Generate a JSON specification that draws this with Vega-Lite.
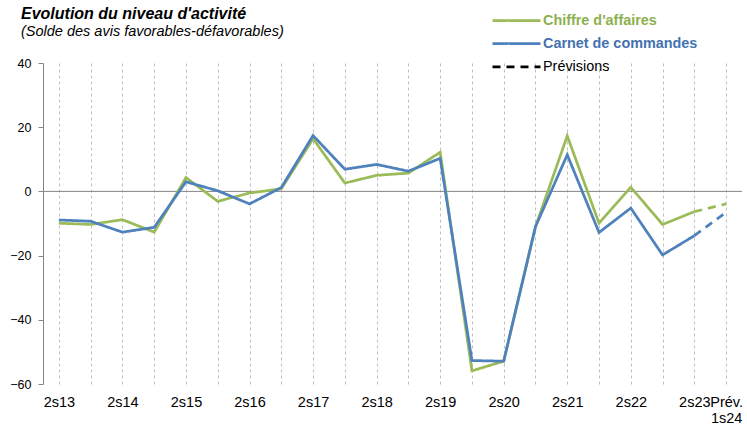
{
  "$schema": "https://vega.github.io/schema/vega-lite/v6.json",
  "width": 699,
  "height": 321,
  "autosize": {"type": "none"},
  "padding": {"left": 43, "top": 63, "right": 5, "bottom": 41},
  "background": "white",
  "config": {
    "view": {"stroke": null},
    "font": "Liberation Sans"
  },
  "title": {
    "text": "Evolution du niveau d'activité",
    "subtitle": "(Solde des avis favorables-défavorables)",
    "anchor": "start",
    "frame": "group",
    "dx": -22,
    "dy": 49,
    "offset": 24,
    "font": "Liberation Sans",
    "fontSize": 16,
    "fontStyle": "italic",
    "fontWeight": "bold",
    "color": "#000000",
    "subtitleFont": "Liberation Sans",
    "subtitleFontSize": 14.5,
    "subtitleFontStyle": "italic",
    "subtitleColor": "#000000",
    "subtitlePadding": 3
  },
  "layer": [
    {
      "data": {"values": [{"zero": 0}]},
      "mark": {"type": "rule", "color": "#868686", "strokeWidth": 1},
      "encoding": {
        "y": {"field": "zero", "type": "quantitative", "scale": {"domain": [-60, 40]}}
      }
    },
    {
      "data": {
        "values": [
          {"cat": "2s13", "serie": "Chiffre d'affaires", "leg": "Chiffre d'affaires", "v": -9.9},
          {"cat": "1s14", "serie": "Chiffre d'affaires", "leg": "Chiffre d'affaires", "v": -10.3},
          {"cat": "2s14", "serie": "Chiffre d'affaires", "leg": "Chiffre d'affaires", "v": -8.8},
          {"cat": "1s15", "serie": "Chiffre d'affaires", "leg": "Chiffre d'affaires", "v": -12.7},
          {"cat": "2s15", "serie": "Chiffre d'affaires", "leg": "Chiffre d'affaires", "v": 4.3},
          {"cat": "1s16", "serie": "Chiffre d'affaires", "leg": "Chiffre d'affaires", "v": -3.1},
          {"cat": "2s16", "serie": "Chiffre d'affaires", "leg": "Chiffre d'affaires", "v": -0.5},
          {"cat": "1s17", "serie": "Chiffre d'affaires", "leg": "Chiffre d'affaires", "v": 0.8},
          {"cat": "2s17", "serie": "Chiffre d'affaires", "leg": "Chiffre d'affaires", "v": 16.4},
          {"cat": "1s18", "serie": "Chiffre d'affaires", "leg": "Chiffre d'affaires", "v": 2.6},
          {"cat": "2s18", "serie": "Chiffre d'affaires", "leg": "Chiffre d'affaires", "v": 5.0},
          {"cat": "1s19", "serie": "Chiffre d'affaires", "leg": "Chiffre d'affaires", "v": 5.7},
          {"cat": "2s19", "serie": "Chiffre d'affaires", "leg": "Chiffre d'affaires", "v": 12.2},
          {"cat": "1s20", "serie": "Chiffre d'affaires", "leg": "Chiffre d'affaires", "v": -55.9},
          {"cat": "2s20", "serie": "Chiffre d'affaires", "leg": "Chiffre d'affaires", "v": -52.9},
          {"cat": "1s21", "serie": "Chiffre d'affaires", "leg": "Chiffre d'affaires", "v": -11.0},
          {"cat": "2s21", "serie": "Chiffre d'affaires", "leg": "Chiffre d'affaires", "v": 17.3},
          {"cat": "1s22", "serie": "Chiffre d'affaires", "leg": "Chiffre d'affaires", "v": -9.9},
          {"cat": "2s22", "serie": "Chiffre d'affaires", "leg": "Chiffre d'affaires", "v": 1.3},
          {"cat": "1s23", "serie": "Chiffre d'affaires", "leg": "Chiffre d'affaires", "v": -10.3},
          {"cat": "2s23", "serie": "Chiffre d'affaires", "leg": "Chiffre d'affaires", "v": -6.3},
          {"cat": "2s23", "serie": "Chiffre d'affaires", "leg": "Prévisions", "v": -6.3},
          {"cat": "Prév. 1s24", "serie": "Chiffre d'affaires", "leg": "Prévisions", "v": -3.9},
          {"cat": "2s13", "serie": "Carnet de commandes", "leg": "Carnet de commandes", "v": -8.9},
          {"cat": "1s14", "serie": "Carnet de commandes", "leg": "Carnet de commandes", "v": -9.3},
          {"cat": "2s14", "serie": "Carnet de commandes", "leg": "Carnet de commandes", "v": -12.7},
          {"cat": "1s15", "serie": "Carnet de commandes", "leg": "Carnet de commandes", "v": -11.2},
          {"cat": "2s15", "serie": "Carnet de commandes", "leg": "Carnet de commandes", "v": 3.0},
          {"cat": "1s16", "serie": "Carnet de commandes", "leg": "Carnet de commandes", "v": 0.2},
          {"cat": "2s16", "serie": "Carnet de commandes", "leg": "Carnet de commandes", "v": -3.9},
          {"cat": "1s17", "serie": "Carnet de commandes", "leg": "Carnet de commandes", "v": 1.2},
          {"cat": "2s17", "serie": "Carnet de commandes", "leg": "Carnet de commandes", "v": 17.4},
          {"cat": "1s18", "serie": "Carnet de commandes", "leg": "Carnet de commandes", "v": 6.9},
          {"cat": "2s18", "serie": "Carnet de commandes", "leg": "Carnet de commandes", "v": 8.4},
          {"cat": "1s19", "serie": "Carnet de commandes", "leg": "Carnet de commandes", "v": 6.3},
          {"cat": "2s19", "serie": "Carnet de commandes", "leg": "Carnet de commandes", "v": 10.3},
          {"cat": "1s20", "serie": "Carnet de commandes", "leg": "Carnet de commandes", "v": -52.7},
          {"cat": "2s20", "serie": "Carnet de commandes", "leg": "Carnet de commandes", "v": -52.9},
          {"cat": "1s21", "serie": "Carnet de commandes", "leg": "Carnet de commandes", "v": -11.0},
          {"cat": "2s21", "serie": "Carnet de commandes", "leg": "Carnet de commandes", "v": 11.4},
          {"cat": "1s22", "serie": "Carnet de commandes", "leg": "Carnet de commandes", "v": -12.8},
          {"cat": "2s22", "serie": "Carnet de commandes", "leg": "Carnet de commandes", "v": -5.2},
          {"cat": "1s23", "serie": "Carnet de commandes", "leg": "Carnet de commandes", "v": -19.8},
          {"cat": "2s23", "serie": "Carnet de commandes", "leg": "Carnet de commandes", "v": -13.8},
          {"cat": "2s23", "serie": "Carnet de commandes", "leg": "Prévisions", "v": -13.8},
          {"cat": "Prév. 1s24", "serie": "Carnet de commandes", "leg": "Prévisions", "v": -6.5}
        ]
      },
      "mark": {"type": "line", "strokeWidth": 2.75, "strokeJoin": "miter", "strokeCap": "butt"},
      "encoding": {
        "x": {
          "field": "cat",
          "type": "ordinal",
          "sort": null,
          "scale": {"type": "point", "padding": 0.5},
          "axis": {
            "title": null,
            "domain": false,
            "ticks": false,
            "tickSize": 0,
            "grid": true,
            "gridDash": [3, 3],
            "gridColor": "#BFBFBF",
            "gridWidth": 1,
            "labelAngle": 0,
            "labelFont": "Liberation Sans",
            "labelFontSize": 14.5,
            "labelColor": "#000000",
            "labelPadding": 11,
            "labelOverlap": false,
            "labelFlush": false,
            "labelLineHeight": 16,
            "labelExpr": "datum.value === 'Prév. 1s24' ? ['Prév.', '1s24'] : (slice(datum.value, 0, 2) === '2s' ? datum.value : '')"
          }
        },
        "y": {
          "field": "v",
          "type": "quantitative",
          "scale": {"domain": [-60, 40], "nice": false},
          "axis": {
            "title": null,
            "values": [-60, -40, -20, 0, 20, 40],
            "grid": false,
            "domainColor": "#868686",
            "tickColor": "#868686",
            "tickSize": 5,
            "labelPadding": 7,
            "labelFont": "Liberation Sans",
            "labelFontSize": 12.5,
            "labelColor": "#000000"
          }
        },
        "color": {
          "field": "serie",
          "type": "nominal",
          "scale": {"domain": ["Chiffre d'affaires", "Carnet de commandes"], "range": ["#9BBB59", "#4F81BD"]},
          "legend": null
        },
        "strokeDash": {
          "field": "leg",
          "type": "nominal",
          "scale": {"domain": ["Chiffre d'affaires", "Carnet de commandes", "Prévisions"], "range": [[1, 0], [1, 0], [8, 6]]},
          "legend": {
            "title": null,
            "orient": "none",
            "legendX": 448,
            "legendY": -50,
            "padding": 0,
            "symbolType": "M-1,0H7",
            "symbolSize": 144,
            "symbolStrokeWidth": 2.75,
            "labelOffset": 37,
            "labelFont": "Liberation Sans",
            "labelFontSize": 14.4,
            "rowPadding": 8.2,
            "encode": {
              "symbols": {
                "update": {
                  "fill": {"value": "transparent"},
                  "stroke": {"signal": "datum.value === 'Prévisions' ? '#000000' : (datum.value === 'Carnet de commandes' ? '#4F81BD' : '#9BBB59')"}
                }
              },
              "labels": {
                "update": {
                  "fill": {"signal": "datum.value === 'Prévisions' ? '#000000' : (datum.value === 'Carnet de commandes' ? '#4472B0' : '#8DB04E')"},
                  "fontWeight": {"signal": "datum.value === 'Prévisions' ? 'normal' : 'bold'"}
                }
              }
            }
          }
        }
      }
    }
  ]
}
